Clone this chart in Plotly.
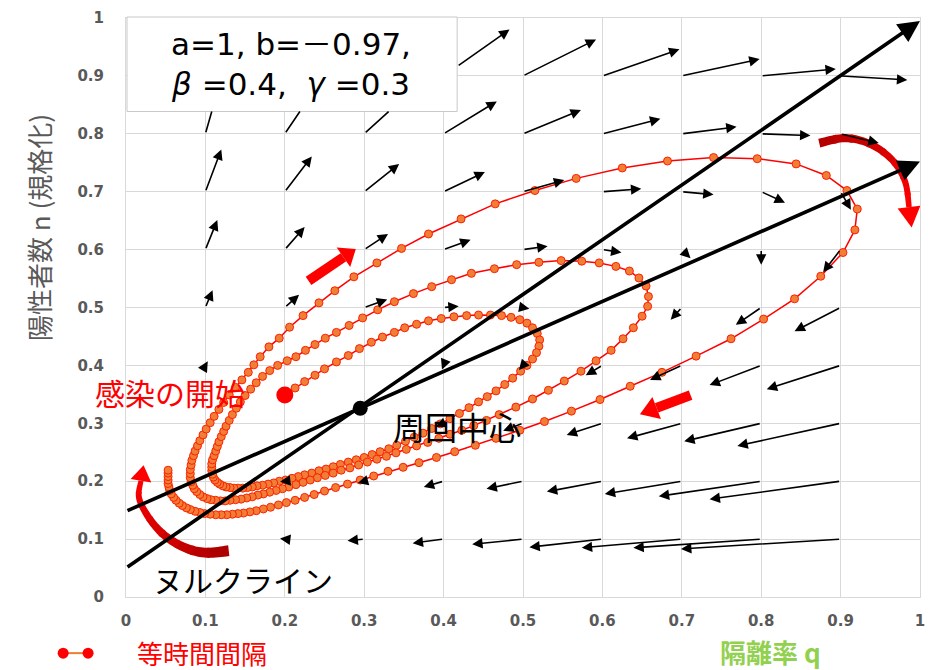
import numpy as np
import plotly.graph_objects as go

FIG_W, FIG_H = 934, 670
M_L, M_R, M_T, M_B = 126, 12, 9, 73
PLOT_W = FIG_W - M_L - M_R
PLOT_H = FIG_H - M_T - M_B

CJK = "Noto Sans CJK JP"
LATIN = "DejaVu Sans, Noto Sans CJK JP"
GRAY = "#595959"

# ---------------- vector field on a 0.1 grid ----------------
grid_q = [0.1, 0.2, 0.3, 0.4, 0.5, 0.6, 0.7, 0.8, 0.9]
grid_n = [0.1, 0.2, 0.3, 0.4, 0.5, 0.6, 0.7, 0.8, 0.9]
# rows follow grid_n (bottom to top), columns follow grid_q
field_dq = [
    [-0.001, -0.006, -0.021, -0.039, -0.064, -0.092, -0.126, -0.161, -0.201],
    [-0.001, -0.006, -0.008, -0.025, -0.046, -0.070, -0.097, -0.129, -0.165],
    [-0.005, -0.005, 0.002, -0.010, -0.025, -0.045, -0.069, -0.097, -0.130],
    [0.003, 0.002, 0.001, -0.002, -0.005, -0.021, -0.040, -0.065, -0.093],
    [0.009, 0.018, 0.029, 0.019, 0.008, -0.004, -0.014, -0.032, -0.058],
    [0.015, 0.025, 0.030, 0.034, 0.031, 0.024, 0.011, 0.000, -0.022],
    [0.020, 0.034, 0.044, 0.052, 0.052, 0.049, 0.040, 0.030, 0.013],
    [0.020, 0.042, 0.056, 0.067, 0.073, 0.073, 0.069, 0.062, 0.048],
    [0.025, 0.050, 0.070, 0.083, 0.092, 0.097, 0.098, 0.094, 0.084],
]
field_dn = [
    [0.006, 0.001, -0.003, -0.007, -0.009, -0.014, -0.015, -0.015, -0.017],
    [0.006, -0.001, -0.003, -0.010, -0.013, -0.018, -0.022, -0.026, -0.031],
    [0.003, -0.003, 0.006, -0.006, -0.013, -0.020, -0.026, -0.031, -0.039],
    [0.007, 0.006, -0.006, -0.007, -0.008, -0.017, -0.025, -0.034, -0.041],
    [0.030, 0.022, 0.014, 0.002, -0.002, -0.006, -0.021, -0.030, -0.041],
    [0.051, 0.039, 0.027, 0.017, 0.006, -0.005, -0.015, -0.026, -0.039],
    [0.073, 0.061, 0.048, 0.034, 0.020, 0.005, -0.005, -0.019, -0.031],
    [0.096, 0.085, 0.070, 0.056, 0.041, 0.026, 0.012, -0.003, -0.016],
    [0.120, 0.110, 0.095, 0.080, 0.063, 0.046, 0.029, 0.012, -0.007],
]

# ---------------- nullclines, centre, start ----------------
null1_q = [0.0, 1.0]
null1_n = [0.050, 0.995]
null2_q = [0.0, 1.0]
null2_n = [0.148, 0.752]
center_q, center_n = 0.295, 0.326
start_q, start_n = 0.200, 0.349

# ---------------- trajectory (equal time steps) ----------------
# first loop: start -> inner turn -> back to the left
loop1_q = [0.200, 0.213, 0.225, 0.238, 0.250, 0.265, 0.280, 0.294, 0.309, 0.323, 0.338, 0.351,
           0.366, 0.381, 0.397, 0.413, 0.429, 0.444, 0.459, 0.473, 0.485, 0.496, 0.505, 0.512,
           0.518, 0.521, 0.520, 0.517, 0.512, 0.505, 0.497, 0.487, 0.477, 0.466, 0.455, 0.444,
           0.432, 0.420, 0.408, 0.396, 0.385, 0.374, 0.363, 0.352, 0.341, 0.331, 0.320, 0.310,
           0.300, 0.290, 0.280, 0.270, 0.261, 0.252, 0.243, 0.234, 0.225, 0.217, 0.209, 0.201,
           0.193, 0.186, 0.179, 0.172, 0.165, 0.159, 0.153, 0.147, 0.141, 0.136, 0.131, 0.126,
           0.122, 0.118, 0.115, 0.112, 0.110, 0.109, 0.108, 0.108, 0.108, 0.109, 0.111, 0.113,
           0.115, 0.117, 0.120, 0.123, 0.126, 0.130, 0.134, 0.139, 0.144, 0.150, 0.157, 0.164,
           0.172, 0.181, 0.191, 0.203]
loop1_n = [0.349, 0.361, 0.372, 0.383, 0.394, 0.406, 0.417, 0.429, 0.440, 0.449, 0.457, 0.465,
           0.471, 0.477, 0.481, 0.484, 0.486, 0.487, 0.487, 0.486, 0.483, 0.479, 0.473, 0.465,
           0.455, 0.444, 0.433, 0.422, 0.411, 0.400, 0.390, 0.378, 0.367, 0.356, 0.346, 0.337,
           0.327, 0.317, 0.308, 0.299, 0.291, 0.283, 0.276, 0.269, 0.262, 0.256, 0.251, 0.246,
           0.241, 0.237, 0.233, 0.229, 0.225, 0.221, 0.218, 0.214, 0.211, 0.208, 0.205, 0.202,
           0.200, 0.197, 0.195, 0.193, 0.192, 0.190, 0.189, 0.188, 0.188, 0.188, 0.189, 0.190,
           0.192, 0.195, 0.198, 0.202, 0.207, 0.212, 0.218, 0.224, 0.230, 0.237, 0.244, 0.252,
           0.260, 0.268, 0.277, 0.286, 0.295, 0.305, 0.315, 0.326, 0.337, 0.348, 0.359, 0.370,
           0.381, 0.391, 0.400, 0.408]

# second loop
loop2_q = [0.214, 0.226, 0.238, 0.251, 0.265, 0.281, 0.298, 0.317, 0.338, 0.362, 0.385, 0.410,
           0.435, 0.464, 0.492, 0.520, 0.548, 0.574, 0.596, 0.617, 0.634, 0.646, 0.655, 0.658,
           0.657, 0.650, 0.639, 0.626, 0.611, 0.592, 0.573, 0.552, 0.532, 0.512, 0.491, 0.470,
           0.454, 0.438, 0.423, 0.408, 0.394, 0.380, 0.366, 0.353, 0.340, 0.328, 0.316, 0.304,
           0.293, 0.282, 0.271, 0.261, 0.251, 0.241, 0.232, 0.223, 0.214, 0.205, 0.197, 0.189,
           0.181, 0.173, 0.166, 0.159, 0.152, 0.145, 0.138, 0.131, 0.125, 0.119, 0.113, 0.107,
           0.102, 0.097, 0.093, 0.089, 0.086, 0.084, 0.082, 0.081]
loop2_n = [0.415, 0.426, 0.436, 0.447, 0.457, 0.469, 0.482, 0.496, 0.510, 0.524, 0.536, 0.548,
           0.559, 0.567, 0.574, 0.578, 0.581, 0.580, 0.577, 0.571, 0.563, 0.551, 0.537, 0.519,
           0.502, 0.485, 0.465, 0.446, 0.426, 0.408, 0.390, 0.373, 0.357, 0.342, 0.328, 0.315,
           0.305, 0.296, 0.288, 0.281, 0.274, 0.267, 0.261, 0.255, 0.249, 0.243, 0.238, 0.233,
           0.228, 0.223, 0.219, 0.214, 0.210, 0.206, 0.202, 0.198, 0.194, 0.190, 0.187, 0.184,
           0.181, 0.178, 0.176, 0.173, 0.171, 0.169, 0.168, 0.167, 0.166, 0.166, 0.167, 0.168,
           0.170, 0.173, 0.177, 0.182, 0.187, 0.193, 0.199, 0.206]

# third (outer) loop
loop3_q = [0.081, 0.081, 0.082, 0.083, 0.085, 0.087, 0.090, 0.093, 0.097, 0.101, 0.106, 0.111,
           0.117, 0.123, 0.130, 0.138, 0.146, 0.154, 0.161, 0.169, 0.180, 0.193, 0.206, 0.223,
           0.243, 0.263, 0.287, 0.316, 0.347, 0.381, 0.422, 0.465, 0.515, 0.567, 0.625, 0.682,
           0.740, 0.795, 0.844, 0.882, 0.908, 0.921, 0.918, 0.903, 0.875, 0.842, 0.803, 0.762,
           0.718, 0.675, 0.635, 0.597, 0.561, 0.527, 0.496, 0.466, 0.440, 0.414, 0.391, 0.369,
           0.349, 0.330, 0.312, 0.295, 0.279, 0.264, 0.250, 0.237, 0.225, 0.213, 0.202, 0.192,
           0.182, 0.173, 0.164, 0.156, 0.148, 0.141, 0.134, 0.127, 0.120, 0.113, 0.106, 0.099,
           0.093, 0.087, 0.081, 0.076, 0.071, 0.067, 0.063, 0.060, 0.057, 0.055, 0.054, 0.053,
           0.053, 0.053, 0.053, 0.053]
loop3_n = [0.213, 0.220, 0.228, 0.236, 0.244, 0.252, 0.261, 0.270, 0.280, 0.290, 0.301, 0.312,
           0.324, 0.336, 0.349, 0.362, 0.375, 0.388, 0.401, 0.415, 0.432, 0.447, 0.466, 0.486,
           0.508, 0.529, 0.553, 0.577, 0.602, 0.627, 0.653, 0.679, 0.702, 0.723, 0.741, 0.753,
           0.759, 0.757, 0.748, 0.728, 0.702, 0.670, 0.634, 0.595, 0.554, 0.515, 0.480, 0.446,
           0.416, 0.388, 0.364, 0.341, 0.321, 0.303, 0.288, 0.274, 0.262, 0.251, 0.241, 0.232,
           0.224, 0.217, 0.209, 0.202, 0.195, 0.189, 0.183, 0.177, 0.172, 0.167, 0.163, 0.159,
           0.155, 0.152, 0.149, 0.147, 0.145, 0.144, 0.143, 0.142, 0.142, 0.142, 0.143, 0.144,
           0.146, 0.148, 0.151, 0.154, 0.158, 0.162, 0.167, 0.172, 0.178, 0.184, 0.190, 0.196,
           0.202, 0.208, 0.214, 0.219]

traj_q = loop1_q + loop2_q + loop3_q
traj_n = loop1_n + loop2_n + loop3_n


# ---------------- helpers ----------------
def to_data(px, py):
    return (px - M_L) / PLOT_W, (FIG_H - M_B - py) / PLOT_H


def paper_x(px):
    return (px - M_L) / PLOT_W


def paper_y(py):
    return (FIG_H - M_B - py) / PLOT_H


# parameter box (pixel edges -> axis units)
BOX_L, BOX_R, BOX_T, BOX_B = 127, 458, 8, 104
box_q0, box_n1 = to_data(BOX_L, BOX_T)
box_q1, box_n0 = to_data(BOX_R, BOX_B)


def inside_interval(p0, p1):
    """Part of the segment p0->p1 (as t-range) that falls under the parameter box."""
    t0, t1 = 0.0, 1.0
    dx, dy = p1[0] - p0[0], p1[1] - p0[1]
    for p, q in ((-dx, p0[0] - box_q0), (dx, box_q1 - p0[0]),
                 (-dy, p0[1] - box_n0), (dy, box_n1 - p0[1])):
        if p == 0:
            if q < 0:
                return None
        else:
            r = q / p
            if p < 0:
                t0 = max(t0, r)
            else:
                t1 = min(t1, r)
    return (t0, t1) if t0 < t1 else None


def smooth(points, sub=10):
    p = np.asarray(points, float)
    P = np.vstack([p[0], p, p[-1]])
    out = []
    for i in range(1, len(P) - 2):
        p0, p1, p2, p3 = P[i - 1], P[i], P[i + 1], P[i + 2]
        for t in np.linspace(0, 1, sub, endpoint=False):
            out.append(0.5 * (2 * p1 + (-p0 + p2) * t
                              + (2 * p0 - 5 * p1 + 4 * p2 - p3) * t * t
                              + (-p0 + 3 * p1 - 3 * p2 + p3) * t ** 3))
    out.append(p[-1])
    return np.array(out)


def path_of(poly):
    pts = [to_data(x, y) for x, y in poly]
    return "M" + " L".join(f"{x:.5f},{y:.5f}" for x, y in pts) + " Z"


def mix(c0, c1, t):
    a = np.array([int(c0[i:i + 2], 16) for i in (1, 3, 5)])
    b = np.array([int(c1[i:i + 2], 16) for i in (1, 3, 5)])
    c = (a + (b - a) * t).round().astype(int)
    return "#%02x%02x%02x" % tuple(c)


def arrow_shapes(center_px, w0, w1, head_w, head_len, c0, c1, pieces=8, sub=10):
    c = smooth(center_px, sub) if len(center_px) > 2 else np.asarray(center_px, float)
    tang = np.gradient(c, axis=0)
    tang /= np.linalg.norm(tang, axis=1, keepdims=True)
    norm = np.stack([-tang[:, 1], tang[:, 0]], axis=1)
    w = np.linspace(w0, w1, len(c))[:, None] / 2
    left, right = c + norm * w, c - norm * w
    shapes = []
    idx = np.linspace(0, len(c) - 1, pieces + 1).round().astype(int)
    for k in range(pieces):
        a, b = idx[k], min(idx[k + 1] + 1, len(c) - 1)
        poly = list(left[a:b + 1]) + list(right[a:b + 1][::-1])
        shapes.append(dict(type="path", path=path_of(poly), xref="x", yref="y",
                           fillcolor=mix(c0, c1, (k + 0.5) / pieces), line=dict(width=0),
                           layer="above"))
    end, d = c[-1], tang[-1]
    nrm = np.array([-d[1], d[0]])
    head = [end + nrm * head_w / 2, end + d * head_len, end - nrm * head_w / 2]
    shapes.append(dict(type="path", path=path_of(head), xref="x", yref="y",
                       fillcolor=c1, line=dict(width=0), layer="above"))
    return shapes


def text_note(x, y, text, size, color, family=CJK, ref="x", **kw):
    return dict(x=x, y=y, xref=ref, yref="y" if ref == "x" else "paper", text=text,
                showarrow=False, xanchor="center", yanchor="middle",
                font=dict(family=family, size=size, color=color), **kw)


fig = go.Figure()

# trajectory with equally spaced time markers
fig.add_trace(go.Scatter(
    x=traj_q, y=traj_n, mode="lines+markers",
    line=dict(color="#ff0000", width=1.5),
    marker=dict(size=8, color="#ef7f37", line=dict(color="#ff2000", width=1)),
    hoverinfo="skip"))
# start of infection
fig.add_trace(go.Scatter(x=[start_q], y=[start_n], mode="markers",
                         marker=dict(size=17, color="#ff0000"), hoverinfo="skip"))
# fixed point
fig.add_trace(go.Scatter(x=[center_q], y=[center_n], mode="markers",
                         marker=dict(size=15, color="#000000"), hoverinfo="skip"))

annotations = []
# vector field arrows (the parts hidden under the parameter box are left out)
for i, n0 in enumerate(grid_n):
    for j, q0 in enumerate(grid_q):
        tail = (q0, n0)
        tip = (q0 + field_dq[i][j], n0 + field_dn[i][j])
        pieces = [(0.0, 1.0)]
        hidden = inside_interval(tail, tip)
        if hidden is not None:
            pieces = [pc for pc in ((0.0, hidden[0]), (hidden[1], 1.0)) if pc[1] - pc[0] > 1e-6]
        for ta, tb in pieces:
            sx, sy = tail[0] + (tip[0] - tail[0]) * ta, tail[1] + (tip[1] - tail[1]) * ta
            ex, ey = tail[0] + (tip[0] - tail[0]) * tb, tail[1] + (tip[1] - tail[1]) * tb
            annotations.append(dict(
                x=ex, y=ey, ax=sx, ay=sy,
                xref="x", yref="y", axref="x", ayref="y", text="", showarrow=True,
                arrowhead=2 if tb == 1.0 else 0, arrowsize=1.3, arrowwidth=1.6,
                arrowcolor="#000000", standoff=0, startstandoff=0))

# nullclines with arrow tips
for qs, ns in ((null1_q, null1_n), (null2_q, null2_n)):
    annotations.append(dict(
        x=qs[1], y=ns[1], ax=qs[0], ay=ns[0], xref="x", yref="y", axref="x", ayref="y",
        text="", showarrow=True, arrowhead=2, arrowsize=1.2, arrowwidth=3.6,
        arrowcolor="#000000", standoff=0, startstandoff=0))

# parameter text
annotations.append(text_note(paper_x(291), paper_y(56),
                             "a=1, b=－0.97,<br><i>β</i> =0.4,  <i>γ</i> =0.3", 31, "#000000",
                             family=LATIN, ref="paper"))

# labels inside the plot
annotations.append(text_note(0.417, 0.296, "周回中心", 32, "#000000"))
annotations.append(text_note(0.055, 0.354, "感染の開始", 30, "#ff0000"))
annotations.append(text_note(0.147, 0.031, "ヌルクライン", 30, "#000000"))

# axis titles and legend note
annotations.append(text_note(paper_x(39), paper_y(222), "陽性者数 n (規格化)", 26, GRAY,
                             ref="paper", textangle=-90))
annotations.append(text_note(paper_x(772), paper_y(652), "<b>隔離率 q</b>", 26, "#92d050",
                             ref="paper"))
annotations.append(text_note(paper_x(202), paper_y(653), "等時間間隔", 26, "#ff0000",
                             ref="paper"))

shapes = []
# white parameter box
shapes.append(dict(type="rect", xref="paper", yref="paper",
                   x0=paper_x(BOX_L), x1=paper_x(BOX_R), y0=paper_y(BOX_B), y1=paper_y(BOX_T),
                   fillcolor="#ffffff", line=dict(color="#c8c8c8", width=1), layer="above"))
# legend key: two dots joined by a line
ky = paper_y(654)
kx0, kx1 = paper_x(63), paper_x(88)
shapes.append(dict(type="line", xref="paper", yref="paper", x0=kx0, x1=kx1, y0=ky, y1=ky,
                   line=dict(color="#ed7d31", width=2)))
for kx in (kx0, kx1):
    shapes.append(dict(type="circle", xref="paper", yref="paper", xsizemode="pixel",
                       ysizemode="pixel", xanchor=kx, yanchor=ky, x0=-5.5, x1=5.5,
                       y0=-5.5, y1=5.5, fillcolor="#ff0000", line=dict(width=0)))

# direction arrows along the orbit
shapes += arrow_shapes([(309, 276), (344, 252)], 10, 10, 24, 15, "#ff0000", "#ff0000", pieces=1)
shapes += arrow_shapes([(692, 392), (658, 405)], 10, 10, 24, 18, "#ff0000", "#ff0000", pieces=1)
shapes += arrow_shapes([(821, 136), (847, 131), (872, 137), (894, 153), (907, 175), (911, 201)],
                       9, 5.5, 23, 21, "#b00000", "#ff0000")
shapes += arrow_shapes([(229, 550), (205, 552), (183, 546), (163, 533), (148, 515), (139, 496),
                        (141, 479)], 11, 5, 21, 16, "#a80000", "#ff0000")

axis_common = dict(range=[0, 1], dtick=0.1, tick0=0, showgrid=True, gridcolor="#d9d9d9",
                   gridwidth=1, showline=True, linecolor="#d9d9d9", linewidth=1, mirror=True,
                   zeroline=False, ticks="",
                   tickfont=dict(family="DejaVu Sans", size=15, color=GRAY, weight="bold"))

fig.update_layout(
    width=FIG_W, height=FIG_H,
    margin=dict(l=M_L, r=M_R, t=M_T, b=M_B),
    paper_bgcolor="#ffffff", plot_bgcolor="#ffffff",
    showlegend=False,
    xaxis=dict(**axis_common, ticklabelstandoff=10),
    yaxis=dict(**axis_common, ticklabelstandoff=18),
    annotations=annotations,
    shapes=shapes,
)

fig.write_html("out.html")
